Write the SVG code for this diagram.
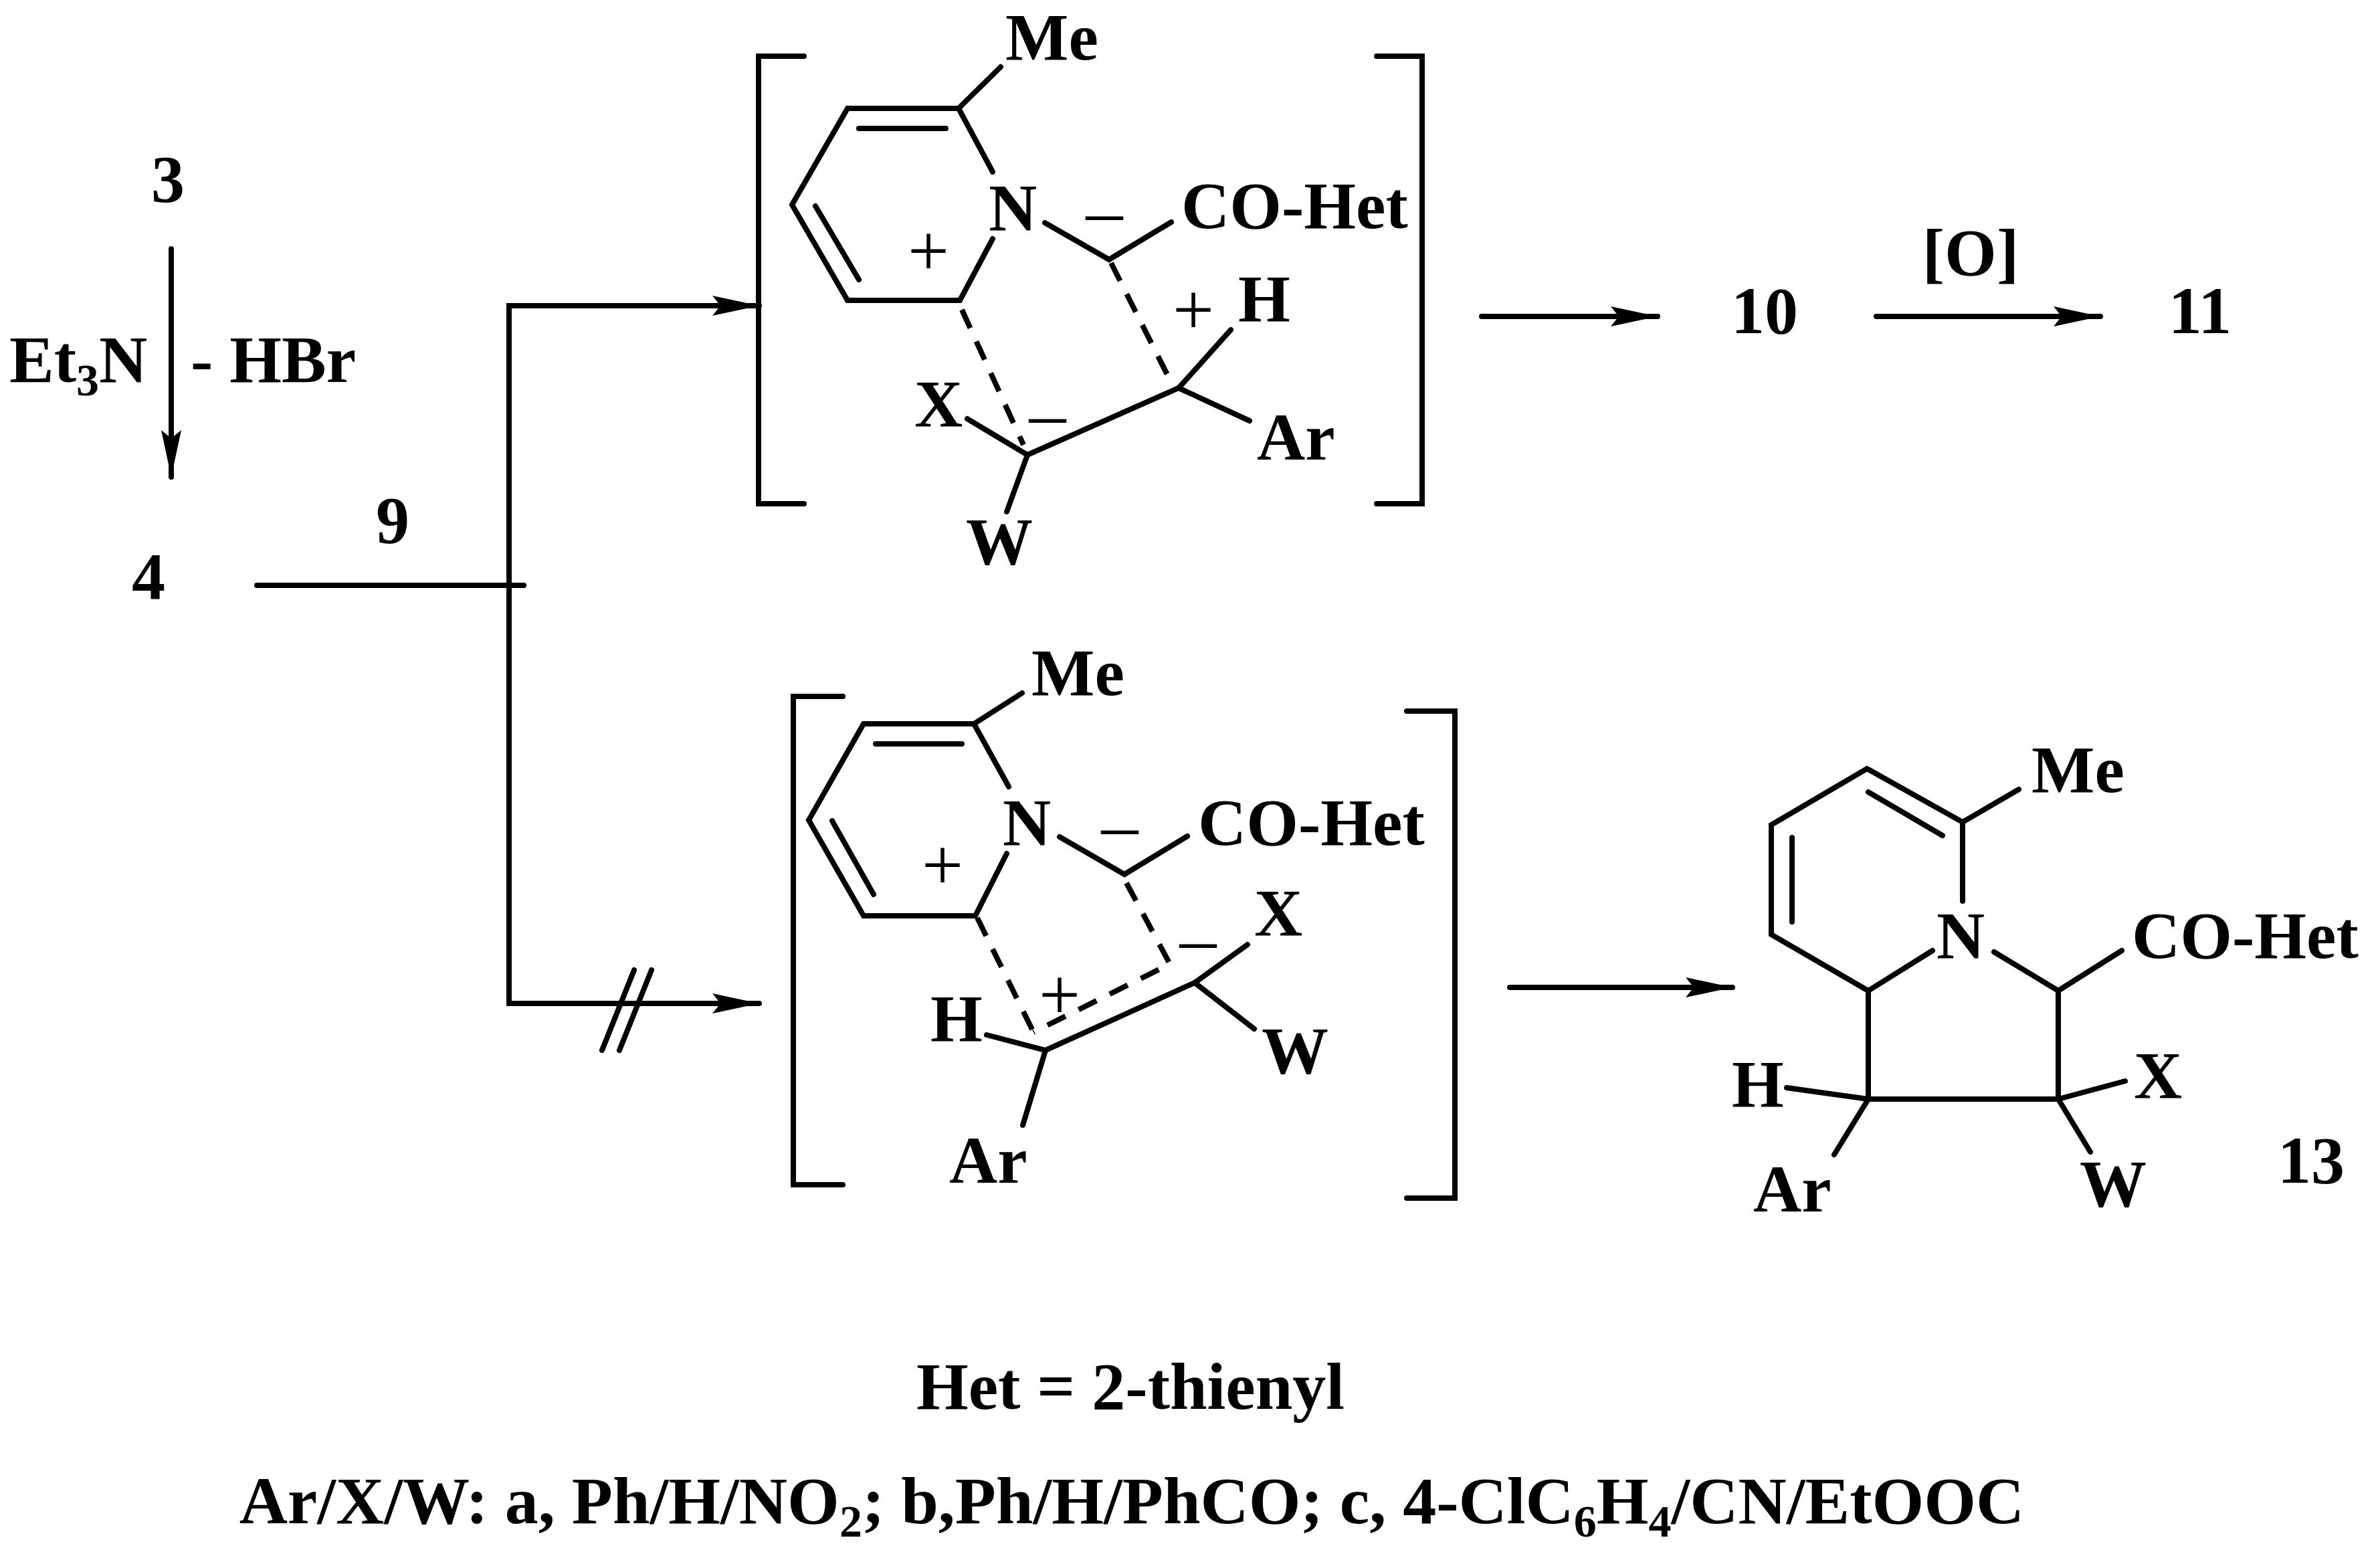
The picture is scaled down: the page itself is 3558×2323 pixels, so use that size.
<svg xmlns="http://www.w3.org/2000/svg" width="3558" height="2323" viewBox="0 0 3558 2323">
<style>
text{font-family:"Liberation Serif","Times New Roman",serif;font-weight:bold;font-size:100px;fill:#000}
.l{stroke:#000;stroke-width:8;fill:none;stroke-linecap:round}
.d{stroke:#000;stroke-width:8;fill:none;stroke-dasharray:30 22}
.c{text-anchor:middle}
.q{font-weight:normal;font-size:110px;text-anchor:middle}
</style>
<defs>
<marker id="a" viewBox="0 0 70 30" refX="70" refY="15" markerWidth="70" markerHeight="30" markerUnits="userSpaceOnUse" orient="auto"><path d="M0,0 L70,15 L0,30 L12,15 Z" fill="#000"/></marker>
</defs>
<rect width="3558" height="2323" fill="#fff"/>
<g id="connectors">
<line class="l" x1="256" y1="372" x2="256" y2="713" marker-end="url(#a)"/>
<line class="l" x1="384" y1="875" x2="783" y2="875"/>
<polyline class="l" points="1100,457 761,457 761,1500 1100,1500" style="stroke-linecap:butt"/>
<line class="l" x1="761" y1="457" x2="1135" y2="457" marker-end="url(#a)"/>
<line class="l" x1="761" y1="1500" x2="1135" y2="1500" marker-end="url(#a)"/>
<line class="l" x1="900" y1="1570" x2="948" y2="1450"/>
<line class="l" x1="926" y1="1570" x2="974" y2="1450"/>
<line class="l" x1="2215" y1="473" x2="2478" y2="473" marker-end="url(#a)"/>
<line class="l" x1="2805" y1="473" x2="3140" y2="473" marker-end="url(#a)"/>
<line class="l" x1="2257" y1="1476" x2="2590" y2="1476" marker-end="url(#a)"/>
</g>
<g id="left">
<text class="c" x="251" y="301">3</text>
<text x="14" y="571">Et<tspan font-size="68" dy="20">3</tspan><tspan dy="-20">N</tspan></text>
<text x="285" y="571">- HBr</text>
<text class="c" x="222" y="895">4</text>
<text class="c" x="587" y="811">9</text>
</g>
<g id="top-intermediate">
<polyline class="l" points="1202,84 1134,84 1134,753 1202,753"/>
<polyline class="l" points="2058,84 2126,84 2126,753 2058,753"/>
<polyline class="l" points="1496,100 1433,162 1267,162 1184,306 1267,449 1435,449 1484,357"/>
<line class="l" x1="1433" y1="162" x2="1484" y2="257"/>
<line class="l" x1="1284" y1="192" x2="1414" y2="192"/>
<line class="l" x1="1219" y1="308" x2="1284" y2="418"/>
<polyline class="l" points="1562,333 1658,388 1751,332"/>
<line class="d" x1="1438" y1="463" x2="1530" y2="665"/>
<line class="d" x1="1661" y1="393" x2="1745" y2="560"/>
<polyline class="l" points="1446,626 1536,680 1762,580 1840,493"/>
<line class="l" x1="1762" y1="580" x2="1868" y2="629"/>
<line class="l" x1="1536" y1="680" x2="1505" y2="765"/>
<text x="1503" y="89">Me</text>
<text class="c" x="1514" y="344">N</text>
<text class="q" x="1388" y="412">+</text>
<text class="q" x="1651" y="352">–</text>
<text x="1766" y="341">CO-Het</text>
<text class="q" x="1784" y="500">+</text>
<text x="1851" y="480">H</text>
<text x="1367" y="637">X</text>
<text class="q" x="1566" y="655">–</text>
<text x="1879" y="687">Ar</text>
<text x="1444" y="843">W</text>
</g>
<g id="products-top">
<text class="c" x="2638" y="498">10</text>
<text class="c" x="2946" y="411">[O]</text>
<text class="c" x="3289" y="498">11</text>
</g>
<g id="bottom-intermediate">
<polyline class="l" points="1260,1041 1186,1041 1186,1771 1260,1771"/>
<polyline class="l" points="2103,1063 2175,1063 2175,1791 2103,1791"/>
<polyline class="l" points="1528,1036 1456,1082 1291,1082 1209,1226 1291,1369 1458,1369 1505,1276"/>
<line class="l" x1="1456" y1="1082" x2="1508" y2="1176"/>
<line class="l" x1="1309" y1="1112" x2="1438" y2="1112"/>
<line class="l" x1="1244" y1="1227" x2="1306" y2="1337"/>
<polyline class="l" points="1584,1251 1681,1307 1775,1250"/>
<line class="d" x1="1461" y1="1372" x2="1545" y2="1543"/>
<polyline class="d" points="1684,1320 1749,1441 1545,1543"/>
<polyline class="l" points="1475,1547 1563,1570 1786,1469 1865,1412"/>
<line class="l" x1="1786" y1="1469" x2="1875" y2="1538"/>
<line class="l" x1="1563" y1="1570" x2="1529" y2="1682"/>
<text x="1542" y="1039">Me</text>
<text class="c" x="1535" y="1263">N</text>
<text class="q" x="1409" y="1330">+</text>
<text class="q" x="1674" y="1270">–</text>
<text x="1791" y="1263">CO-Het</text>
<text x="1875" y="1398">X</text>
<text class="q" x="1791" y="1440">–</text>
<text class="q" x="1584" y="1524">+</text>
<text x="1391" y="1556">H</text>
<text x="1886" y="1604">W</text>
<text x="1419" y="1768">Ar</text>
</g>
<g id="compound-13">
<polyline class="l" points="3018,1180 2934,1229 2791,1149 2648,1233 2648,1397 2793,1481 2889,1421"/>
<line class="l" x1="2934" y1="1229" x2="2934" y2="1347"/>
<line class="l" x1="2793" y1="1184" x2="2904" y2="1249"/>
<line class="l" x1="2679" y1="1252" x2="2679" y2="1378"/>
<polyline class="l" points="2981,1423 3077,1481 3172,1421"/>
<polyline class="l" points="2793,1481 2793,1643 3077,1643 3077,1481"/>
<line class="l" x1="2671" y1="1626" x2="2793" y2="1643"/>
<line class="l" x1="2793" y1="1643" x2="2742" y2="1726"/>
<line class="l" x1="3077" y1="1643" x2="3177" y2="1616"/>
<line class="l" x1="3077" y1="1643" x2="3125" y2="1722"/>
<text x="3037" y="1184">Me</text>
<text class="c" x="2931" y="1432">N</text>
<text x="3187" y="1432">CO-Het</text>
<text x="2589" y="1654">H</text>
<text x="2621" y="1811">Ar</text>
<text x="3190" y="1641">X</text>
<text x="3109" y="1803">W</text>
<text x="3405" y="1768">13</text>
</g>
<g id="legend">
<text class="c" x="1690" y="2106">Het = 2-thienyl</text>
<text class="c" x="1692" y="2277">Ar/X/W: a, Ph/H/NO<tspan font-size="68" dy="20">2</tspan><tspan dy="-20">; b,Ph/H/PhCO; c, 4-ClC</tspan><tspan font-size="68" dy="20">6</tspan><tspan dy="-20">H</tspan><tspan font-size="68" dy="20">4</tspan><tspan dy="-20">/CN/EtOOC</tspan></text>
</g>
</svg>
